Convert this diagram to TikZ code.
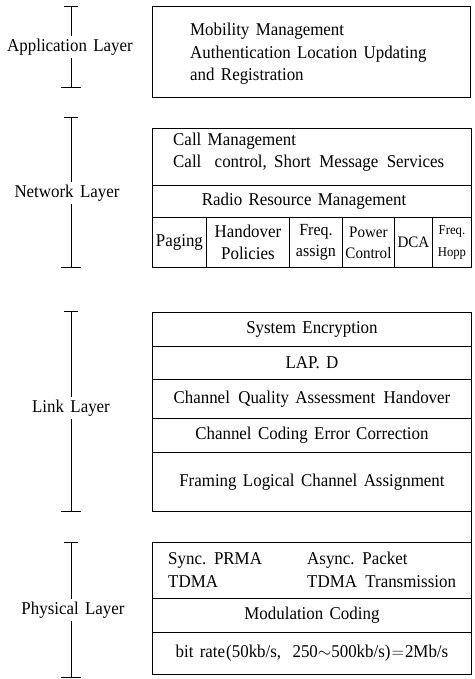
\documentclass[tikz,border=0pt]{standalone}
\usepackage{fontspec}
\setmainfont{Liberation Serif}[FakeStretch=0.94, WordSpace={1.5,1.2,1}]
\begin{document}
\begin{tikzpicture}[x=1pt,y=-1pt,
  box/.style={draw, line width=0.9pt, rectangle, inner sep=0pt, anchor=north west,
    font=\fontsize{18}{22}\selectfont, align=center},
  txt/.style={font=\fontsize{18}{22.5}\selectfont, inner sep=0pt, align=left},
  brk/.style={line width=0.8pt},
  lbl/.style={font=\fontsize{18}{22}\selectfont, fill=white, inner sep=3pt}]
\useasboundingbox (0,0) rectangle (474,679);

% ---------- Application layer ----------
\node[box, minimum width=318, minimum height=91] (app) at (152,6) {};
\node[txt, anchor=west] (apptxt) at (190,54) {Mobility Management\\Authentication Location Updating\\and Registration};

% ---------- Network layer ----------
\node[box, minimum width=319, minimum height=57] (n1) at (152,128) {};
\node[txt, anchor=west] (n1txt) at (173,152) {Call Management\\Call\hspace{7pt} control,\hspace{1pt} Short\hspace{2pt} Message\hspace{2pt} Services};
\node[box, minimum width=319, minimum height=32] (n2) at (152,185) {};
\node[txt] (n2txt) at (304,201) {Radio Resource Management};
\node[box, minimum width=54, minimum height=50] (c1) at (152,217) {Paging};
\node[box, minimum width=83, minimum height=50] (c2) at (206,217) {Handover\\Policies};
\node[box, minimum width=53, minimum height=50, font=\fontsize{17}{21}\selectfont] (c3) at (289,217) {Freq.\\assign};
\node[box, minimum width=52, minimum height=50, font=\fontsize{16}{21}\selectfont] (c4) at (342,217) {Power\\Control};
\node[box, minimum width=38, minimum height=50, font=\fontsize{16}{21}\selectfont] (c5) at (394,217) {DCA};
\node[box, minimum width=39, minimum height=50, font=\fontsize{13.5}{22}\selectfont] (c6) at (432,217) {Freq.\\Hopp};

% ---------- Link layer ----------
\node[box, minimum width=319, minimum height=34] (l1) at (152,312) {System Encryption};
\node[box, minimum width=319, minimum height=33] (l2) at (152,346) {LAP. D};
\node[box, minimum width=319, minimum height=39] (l3) at (152,379) {Channel\hspace{2pt} Quality Assessment\hspace{2pt} Handover};
\node[box, minimum width=319, minimum height=34] (l4) at (152,418) {Channel Coding Error Correction};
\node[box, minimum width=319, minimum height=59] (l5) at (152,452) {Framing Logical Channel Assignment};

% ---------- Physical layer ----------
\node[box, minimum width=319, minimum height=56] (p1) at (152,542) {};
\node[txt, anchor=west] (p1a) at (168,570) {Sync. PRMA\\TDMA};
\node[txt, anchor=west] (p1b) at (307,570) {Async. Packet\\TDMA\hspace{2pt} Transmission};
\node[box, minimum width=319, minimum height=34] (p2) at (152,598) {Modulation Coding};
\node[box, minimum width=319, minimum height=42] (p3) at (152,632) {bit rate\hspace{1pt}(50kb/s,\hspace{5pt} 250$\sim$500kb/s)\hspace{1pt}$=$\hspace{1pt}2Mb/s};

\draw[line width=0.9pt] (l5.south east) -- (p1.north east);

% ---------- Brackets ----------
\node[lbl] (appL) at (70,47) {Application Layer};
\coordinate (appT) at (71,6);
\coordinate (appB) at (71,87);
\draw[brk] (appT) -- (appT |- appL.north) (appT |- appL.south) -- (appB);
\draw[brk] ([xshift=-7pt]appT) -- ([xshift=7pt]appT);
\draw[brk] ([xshift=-10pt]appB) -- ([xshift=10pt]appB);

\node[lbl] (netL) at (67,193) {Network Layer};
\coordinate (netT) at (71,117);
\coordinate (netB) at (71,267);
\draw[brk] (netT) -- (netT |- netL.north) (netT |- netL.south) -- (netB);
\draw[brk] ([xshift=-7pt]netT) -- ([xshift=7pt]netT);
\draw[brk] ([xshift=-10pt]netB) -- ([xshift=10pt]netB);

\node[lbl] (linkL) at (71,408) {Link Layer};
\coordinate (linkT) at (71,311);
\coordinate (linkB) at (71,511);
\draw[brk] (linkT) -- (linkT |- linkL.north) (linkT |- linkL.south) -- (linkB);
\draw[brk] ([xshift=-7pt]linkT) -- ([xshift=7pt]linkT);
\draw[brk] ([xshift=-10pt]linkB) -- ([xshift=10pt]linkB);

\node[lbl] (phyL) at (73,610) {Physical Layer};
\coordinate (phyT) at (71,542);
\coordinate (phyB) at (71,677);
\draw[brk] (phyT) -- (phyT |- phyL.north) (phyT |- phyL.south) -- (phyB);
\draw[brk] ([xshift=-7pt]phyT) -- ([xshift=7pt]phyT);
\draw[brk] ([xshift=-10pt]phyB) -- ([xshift=10pt]phyB);
\end{tikzpicture}
\end{document}
